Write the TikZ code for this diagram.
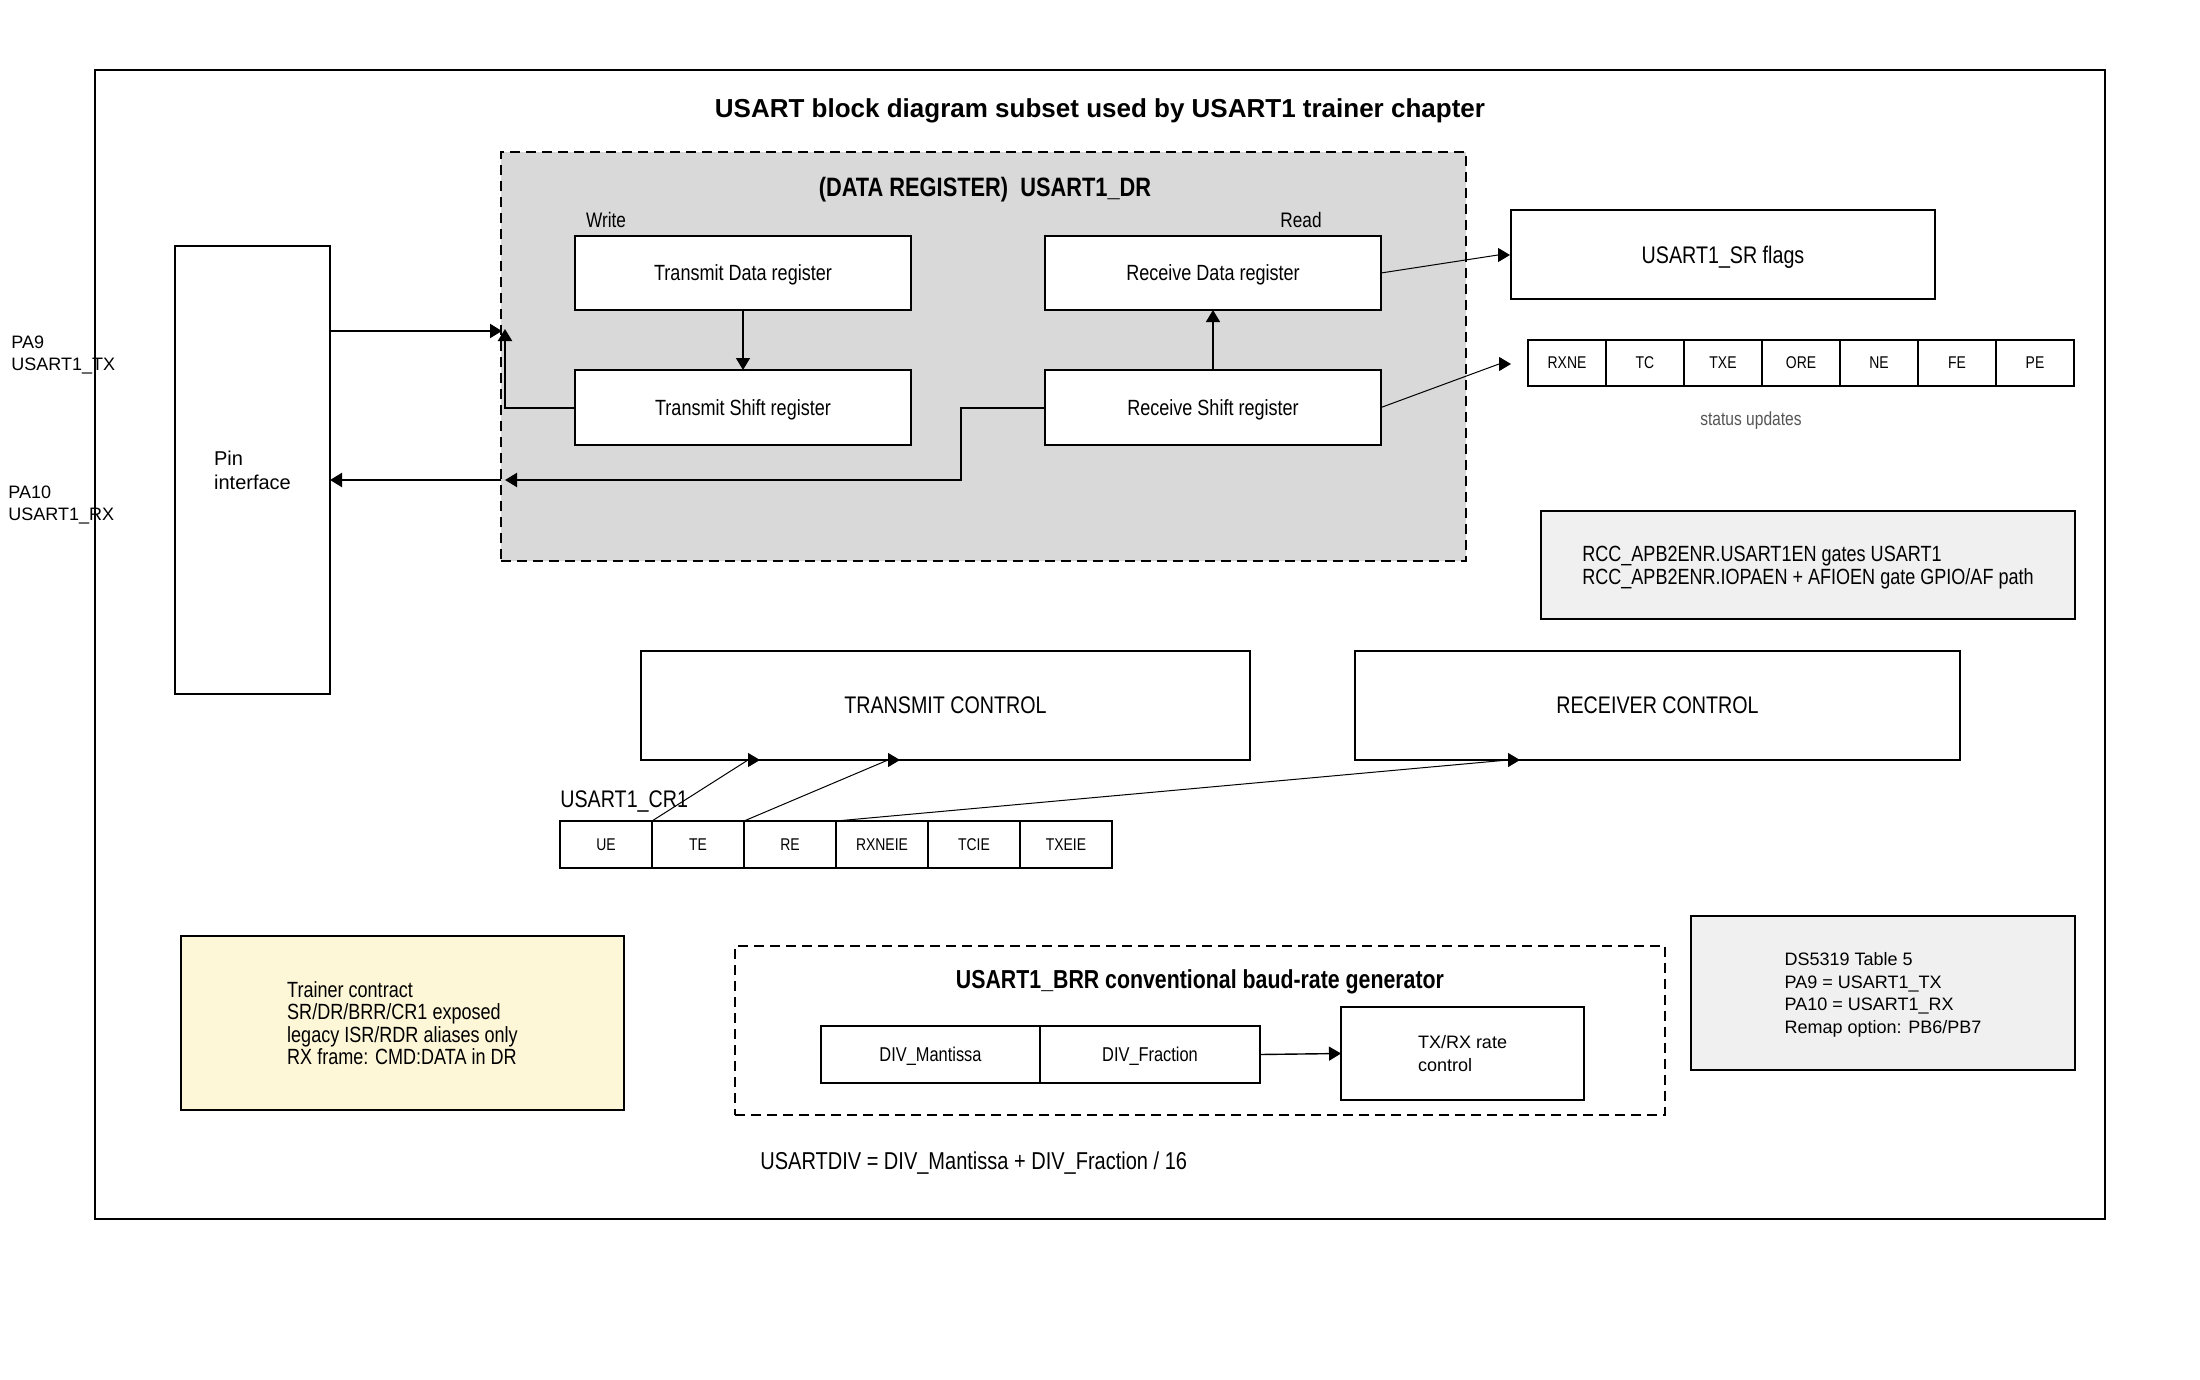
\documentclass[tikz,border=0pt]{standalone}
\usepackage{fontspec}
\setmainfont{Liberation Sans}
\newfontfamily\narrowfont[FakeStretch=0.82]{Liberation Sans}
\usetikzlibrary{arrows.meta}
\definecolor{drgray}{HTML}{D9D9D9}
\definecolor{notegray}{HTML}{F0F0F0}
\definecolor{noteyellow}{HTML}{FDF6D7}
\definecolor{stgray}{HTML}{555555}
\begin{document}
\begin{tikzpicture}[x=0.5pt,y=-0.5pt,
  every node/.style={text depth=0pt},
  box/.style={draw, line width=1pt, inner sep=0pt, outer sep=0pt, anchor=north west},
  cell/.style={draw, line width=0.6pt, inner sep=0pt, outer sep=0pt, anchor=north west},
  dashbox/.style={draw, line width=1pt, dash pattern=on 5pt off 3pt, inner sep=0pt, outer sep=0pt, anchor=north west},
  nar/.style={font=\narrowfont\fontsize{11}{13}\selectfont},
  tip/.style={-{Triangle[length=6pt,width=7pt]}},
  mainline/.style={line width=1pt, tip},
  thinline/.style={line width=0.5pt, tip},
  midline/.style={line width=0.7pt, tip}]
\useasboundingbox (0,0) rectangle (2200,1380);
\fill[white] (0,0) rectangle (2200,1380);

% outer frame and title
\node[box, minimum width=1005pt, minimum height=574.5pt] (frame) at (95,70) {};
\node[font=\bfseries\fontsize{13}{15}\selectfont] (title) at (1100,108) {USART block diagram subset used by USART1 trainer chapter};

% data register region
\node[dashbox, fill=drgray, minimum width=482.5pt, minimum height=204.5pt] (drreg) at (501,152) {};
\node[font=\narrowfont\bfseries\fontsize{13.3}{15}\selectfont] (drtitle) at (985,187) {(DATA REGISTER)\ \ USART1\_DR};
\node[font=\narrowfont\fontsize{10.5}{12}\selectfont] (write) at (606,220) {Write};
\node[font=\narrowfont\fontsize{10.5}{12}\selectfont] (read) at (1301,220) {Read};
\node[box, fill=white, minimum width=168pt, minimum height=37pt, nar] (tdr) at (575,236) {Transmit Data register};
\node[box, fill=white, minimum width=168pt, minimum height=37.5pt, nar] (tsr) at (575,370) {Transmit Shift register};
\node[box, fill=white, minimum width=168pt, minimum height=37pt, nar] (rdr) at (1045,236) {Receive Data register};
\node[box, fill=white, minimum width=168pt, minimum height=37.5pt, nar] (rsr) at (1045,370) {Receive Shift register};

% pin interface
\node[box, minimum width=77.5pt, minimum height=224pt, align=left, font=\fontsize{10}{12}\selectfont] (pin) at (175,246) {Pin\\interface};
\node[anchor=west, align=left, inner sep=0pt, font=\fontsize{9}{11}\selectfont] (pa9) at (11,353) {PA9\\USART1\_TX};
\node[anchor=west, align=left, inner sep=0pt, font=\fontsize{9}{11}\selectfont] (pa10) at (8,503) {PA10\\USART1\_RX};

% status register
\node[box, minimum width=212pt, minimum height=44.5pt, font=\narrowfont\fontsize{12}{14}\selectfont] (sr) at (1511,210) {USART1\_SR flags};
\foreach \n [count=\i from 0] in {RXNE,TC,TXE,ORE,NE,FE,PE} {
  \node[cell, minimum width=39pt, minimum height=23pt, font=\narrowfont\fontsize{8.5}{10}\selectfont] (f\i) at ({1528+78*\i},340) {\n};
}
\node[font=\narrowfont\fontsize{9.5}{11}\selectfont, text=stgray] (status) at (1751,419) {status updates};

% RCC note
\node[box, fill=notegray, minimum width=267pt, minimum height=54pt, align=left, text depth=-1.5pt, font=\narrowfont\fontsize{11}{11.5}\selectfont] (rcc) at (1541,511) {RCC\_APB2ENR.USART1EN gates USART1\\RCC\_APB2ENR.IOPAEN + AFIOEN gate GPIO/AF path};

% control blocks
\node[box, minimum width=304.5pt, minimum height=54.5pt, font=\narrowfont\fontsize{12}{14}\selectfont] (tc) at (641,651) {TRANSMIT CONTROL};
\node[box, minimum width=302.5pt, minimum height=54.5pt, font=\narrowfont\fontsize{12}{14}\selectfont] (rc) at (1355,651) {RECEIVER CONTROL};

% CR1
\node[anchor=west, inner sep=0pt, font=\narrowfont\fontsize{12}{14}\selectfont] (cr1) at (560,799) {USART1\_CR1};
\foreach \n [count=\i from 0] in {UE,TE,RE,RXNEIE,TCIE,TXEIE} {
  \node[cell, minimum width=46pt, minimum height=23.5pt, font=\narrowfont\fontsize{8.5}{10}\selectfont] (c\i) at ({560+92*\i},821) {\n};
}

% trainer note
\node[box, fill=noteyellow, minimum width=221.5pt, minimum height=87pt, align=left, font=\narrowfont\fontsize{11}{11.3}\selectfont] (trainer) at (181,936) {Trainer contract\\SR/DR/BRR/CR1 exposed\\legacy ISR/RDR aliases only\\RX frame: CMD:DATA in DR};

% BRR
\node[dashbox, minimum width=465pt, minimum height=84.5pt] (brr) at (735,946) {};
\node[font=\narrowfont\bfseries\fontsize{13}{15}\selectfont] (brrtitle) at (1200,979) {USART1\_BRR conventional baud-rate generator};
\node[cell, minimum width=109.5pt, minimum height=28.5pt, font=\narrowfont\fontsize{10}{12}\selectfont] (mant) at (821,1026) {DIV\_Mantissa};
\node[cell, minimum width=110pt, minimum height=28.5pt, font=\narrowfont\fontsize{10}{12}\selectfont] (frac) at (1040,1026) {DIV\_Fraction};
\node[box, minimum width=121.5pt, minimum height=46.5pt, align=left, font=\fontsize{9}{11.5}\selectfont] (txrx) at (1341,1007) {TX/RX rate\\control};
\node[anchor=west, inner sep=0pt, font=\narrowfont\fontsize{12.2}{14}\selectfont] (formula) at (760,1161) {USARTDIV = DIV\_Mantissa + DIV\_Fraction / 16};

% DS5319 note
\node[box, fill=notegray, minimum width=192pt, minimum height=77pt, align=left, font=\fontsize{9}{11.2}\selectfont] (ds) at (1691,916) {DS5319 Table 5\\PA9 = USART1\_TX\\PA10 = USART1\_RX\\Remap option: PB6/PB7};

% connectors
\coordinate (txin) at (502,331);
\coordinate (txup) at (505,329);
\coordinate (rxbend) at (961,480);
\coordinate (rxin) at (505,480);
\coordinate (rxout) at (501,480);
\coordinate (srin) at (1510,255);
\coordinate (flagin) at (1511,364);
\coordinate (tcin1) at (760,760);
\coordinate (tcin2) at (900,760);
\coordinate (rcin) at (1520,760);

\draw[mainline] (pin.east |- txin) -- (txin);
\draw[mainline] (tsr.west) -| (txup);
\draw[midline] (tdr.south) -- (tsr.north);
\draw[midline] (rsr.north) -- (rdr.south);
\draw[mainline] (rsr.west) -| (rxbend) -- (rxin);
\draw[mainline] (rxout) -- (pin.east |- rxout);
\draw[thinline] (rdr.east) -- ([xshift=-6pt]srin) -- (srin);
\draw[thinline] (rsr.east) -- ([xshift=-6pt]flagin) -- (flagin);
\draw[thinline] (c0.north east) -- ([xshift=-6pt]tcin1) -- (tcin1);
\draw[thinline] (c1.north east) -- ([xshift=-6pt]tcin2) -- (tcin2);
\draw[thinline] (c2.north east) -- ([xshift=-6pt]rcin) -- (rcin);
\draw[midline] (frac.east) -- (txrx.west);
\end{tikzpicture}
\end{document}
